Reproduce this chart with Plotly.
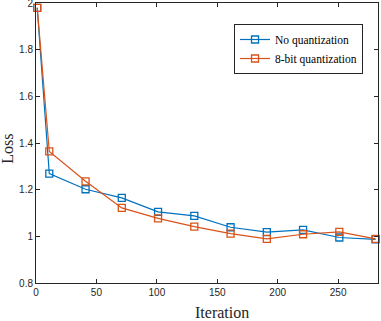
import plotly.graph_objects as go

iterations = [1, 11, 41, 71, 101, 131, 161, 191, 221, 251, 281]
loss_no_quant = [1.98, 1.269, 1.202, 1.165, 1.105, 1.088, 1.039, 1.018, 1.028, 0.995, 0.987]
loss_8bit = [1.98, 1.364, 1.236, 1.122, 1.077, 1.042, 1.012, 0.989, 1.009, 1.019, 0.989]
series_names = ["No quantization", "8-bit quantization"]
colors = ["#0072BD", "#D95319"]
x_ticks = [0, 50, 100, 150, 200, 250]
y_ticks = [0.8, 1.0, 1.2, 1.4, 1.6, 1.8, 2.0]
y_ticktext = ["0.8", "1", "1.2", "1.4", "1.6", "1.8", "2"]

fig = go.Figure()
for name, vals, c in zip(series_names, [loss_no_quant, loss_8bit], colors):
    fig.add_trace(go.Scatter(
        x=iterations, y=vals, name=name, mode="lines+markers",
        line=dict(color=c, width=1.2),
        marker=dict(symbol="square-open", size=7, color=c, line=dict(width=1.3, color=c)),
        cliponaxis=False,
    ))

axis_common = dict(
    showline=True, linecolor="#262626", linewidth=1, mirror="ticks",
    ticks="inside", ticklen=4, tickcolor="#262626",
    showgrid=False, zeroline=False, automargin=False, ticklabeloverflow="allow",
    tickfont=dict(family="Liberation Sans, Arial", size=10, color="#262626"),
)
fig.update_xaxes(range=[0, 283], tickvals=x_ticks, **axis_common)
fig.update_yaxes(range=[0.8, 2.0005], tickvals=y_ticks, ticktext=y_ticktext, **axis_common)

fig.add_annotation(text="Iteration", xref="paper", yref="paper", x=0.544, y=-0.107,
                   xanchor="center", yanchor="middle", showarrow=False,
                   font=dict(family="Liberation Serif", size=16, color="#262626"))
fig.add_annotation(text="Loss", xref="paper", yref="paper", x=-0.082, y=0.479,
                   xanchor="center", yanchor="middle", showarrow=False, textangle=-90,
                   font=dict(family="Liberation Serif", size=16, color="#262626"))

fig.update_layout(
    width=381, height=321,
    margin=dict(l=36, r=3, t=3, b=38),
    plot_bgcolor="white", paper_bgcolor="white",
    legend=dict(x=0.579, y=0.925, xanchor="left", yanchor="top",
                bordercolor="#262626", borderwidth=1, bgcolor="white",
                font=dict(family="Liberation Serif", size=11.5, color="#000000"),
                itemwidth=30, tracegroupgap=0),
    showlegend=True,
)
fig.write_html("out.html", config={"displayModeBar": False},
               post_script="document.body.style.margin='0px';")
